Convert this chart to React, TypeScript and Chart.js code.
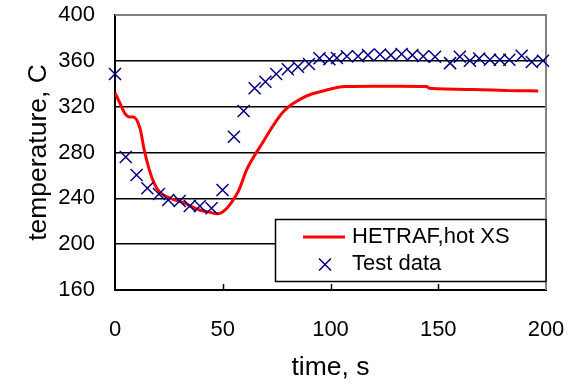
import React, { useEffect, useRef } from "react";
import { Chart, registerables } from "chart.js";

Chart.register(...registerables);

// HETRAF, hot XS calculation
const modelTime = [0, 2.3, 4.6, 7, 8.5, 11.6, 13.6, 15.9, 18.2, 20.5, 24.4, 32, 38.3, 44.6, 47.4, 57.2, 61.1, 67.3, 78.1, 88.2, 98.2, 106.7, 120, 132, 144.6, 146, 166, 183, 196.4];
const modelTemp = [332, 323, 314, 311, 311, 301, 282, 265, 253, 246, 241, 236, 230.5, 227.5, 226.5, 246, 265, 285, 315.6, 328.7, 334.5, 337.5, 337.8, 337.8, 337.5, 336, 335, 334, 333.7];

// Test data
const testTime = [0, 5, 10, 15, 20.4, 24.7, 30, 34.7, 39.4, 44.8, 49.9, 55.2, 59.7, 64.8, 69.8, 74.8, 80.2, 84.9, 90, 94.9, 99.5, 103, 107.6, 112.8, 117.4, 123, 128, 133, 138, 143, 148.5, 155.5, 160, 164.7, 169, 174, 178.6, 183, 188.7, 193.4, 198.6];
const testTemp = [348.5, 276, 260.4, 248.8, 243.8, 238.5, 237.7, 233.3, 233.3, 231.3, 247.3, 293.8, 316.2, 336, 341.8, 348.5, 352.6, 354.9, 357.2, 362.2, 361.4, 362.5, 364, 364, 365, 365.5, 365, 366, 365, 364, 363.5, 358, 363.5, 360, 362, 361, 361, 361, 364.5, 359, 360];

const xTicks = [0, 50, 100, 150, 200];
const yTicks = [160, 200, 240, 280, 320, 360, 400];
const inwardXTicks = [50, 100, 150];

const modelLabel = "HETRAF,hot XS";
const testLabel = "Test data";
const xTitle = "time, s";
const yTitle = "temperature, C";

const FONT = "'Liberation Sans', Arial, sans-serif";
const RED = "#ff0000";
const NAVY = "#000080";
const CLEAR = "rgba(0,0,0,0)";

function drawCross(ctx: CanvasRenderingContext2D, x: number, y: number, r: number) {
  ctx.beginPath();
  ctx.moveTo(x - r, y - r);
  ctx.lineTo(x + r, y + r);
  ctx.moveTo(x - r, y + r);
  ctx.lineTo(x + r, y - r);
  ctx.stroke();
}

const framePlugin = {
  id: "frame",
  beforeDatasetsDraw(chart: any) {
    const { ctx, chartArea: a, scales } = chart;
    ctx.save();
    ctx.strokeStyle = "#808080";
    ctx.lineWidth = 2;
    ctx.beginPath();
    ctx.moveTo(a.left, a.top);
    ctx.lineTo(a.right, a.top);
    ctx.lineTo(a.right, a.bottom);
    ctx.stroke();
    ctx.strokeStyle = "#000";
    ctx.lineWidth = 1.5;
    ctx.beginPath();
    for (const v of inwardXTicks) {
      const px = Math.round(scales.x.getPixelForValue(v)) + 0.5;
      ctx.moveTo(px, a.bottom);
      ctx.lineTo(px, a.bottom - 6);
    }
    ctx.stroke();
    ctx.restore();
  },
  afterDraw(chart: any) {
    const { ctx, chartArea: a } = chart;
    const x0 = 275.5, y0 = 219.5, x1 = a.right, y1 = 281.5;
    ctx.save();
    ctx.fillStyle = "#fff";
    ctx.fillRect(x0, y0, x1 - x0, y1 - y0);
    ctx.strokeStyle = "#000";
    ctx.lineWidth = 1.5;
    ctx.strokeRect(x0, y0, x1 - x0, y1 - y0);
    // line sample
    ctx.strokeStyle = RED;
    ctx.lineWidth = 3;
    ctx.beginPath();
    ctx.moveTo(303, 237);
    ctx.lineTo(345, 237);
    ctx.stroke();
    // marker sample
    ctx.strokeStyle = NAVY;
    ctx.lineWidth = 1.5;
    drawCross(ctx, 325, 264.5, 6);
    // texts
    ctx.fillStyle = "#000";
    ctx.font = `22px ${FONT}`;
    ctx.textAlign = "left";
    ctx.textBaseline = "middle";
    ctx.fillText(modelLabel, 352, 237);
    ctx.fillText(testLabel, 352, 264);
    ctx.restore();
  },
};

export default function App() {
  const ref = useRef<HTMLCanvasElement | null>(null);

  useEffect(() => {
    if (!ref.current) return;
    const chart = new Chart(ref.current, {
      type: "scatter",
      data: {
        datasets: [
          {
            type: "line",
            label: modelLabel,
            data: modelTime.map((t, i) => ({ x: t, y: modelTemp[i] })),
            borderColor: RED,
            backgroundColor: RED,
            borderWidth: 3,
            pointRadius: 0,
            cubicInterpolationMode: "monotone",
            fill: false,
            order: 2,
          } as any,
          {
            type: "scatter",
            label: testLabel,
            data: testTime.map((t, i) => ({ x: t, y: testTemp[i] })),
            pointStyle: "crossRot",
            pointRadius: 8.5,
            pointBorderWidth: 1.5,
            borderColor: NAVY,
            backgroundColor: NAVY,
            borderWidth: 1.5,
            clip: false,
            order: 1,
          } as any,
        ],
      },
      options: {
        responsive: false,
        animation: false,
        events: [],
        layout: { padding: { left: 0, top: 15, right: 30, bottom: 0 } },
        plugins: {
          legend: { display: false },
          tooltip: { enabled: false },
          title: { display: false },
        },
        scales: {
          x: {
            type: "linear",
            min: 0,
            max: 200,
            afterBuildTicks: (s: any) => {
              s.ticks = xTicks.map((v) => ({ value: v }));
            },
            afterFit: (s: any) => {
              s.height = 94;
            },
            grid: { drawOnChartArea: false, drawTicks: true, tickLength: 27, tickColor: CLEAR },
            border: { display: true, color: "#000", width: 2 },
            ticks: {
              color: "#000",
              font: { family: FONT, size: 22 },
              padding: 0,
              maxRotation: 0,
              autoSkip: false,
            },
            title: {
              display: true,
              text: xTitle,
              color: "#000",
              font: { family: FONT, size: 26.5 },
              padding: { top: 0, bottom: 0 },
            },
          },
          y: {
            type: "linear",
            min: 160,
            max: 400,
            afterBuildTicks: (s: any) => {
              s.ticks = yTicks.map((v) => ({ value: v }));
            },
            afterFit: (s: any) => {
              s.width = 115;
            },
            grid: {
              drawTicks: true,
              tickLength: 20,
              tickColor: CLEAR,
              color: (c: any) => (c.tick && c.tick.value === 400 ? "#808080" : "#000"),
              lineWidth: 1.5,
            },
            border: { display: true, color: "#000", width: 2 },
            ticks: {
              color: "#000",
              font: { family: FONT, size: 22 },
              padding: 0,
              autoSkip: false,
            },
            title: {
              display: true,
              text: yTitle,
              color: "#000",
              font: { family: FONT, size: 26.5 },
              padding: { top: 23, bottom: 0 },
            },
          },
        },
      },
      plugins: [framePlugin],
    });
    return () => chart.destroy();
  }, []);

  return (
    <div style={{ position: "fixed", left: 0, top: 0, width: 576, height: 384, background: "#fff" }}>
      <canvas ref={ref} width={576} height={384} style={{ display: "block" }} />
    </div>
  );
}
